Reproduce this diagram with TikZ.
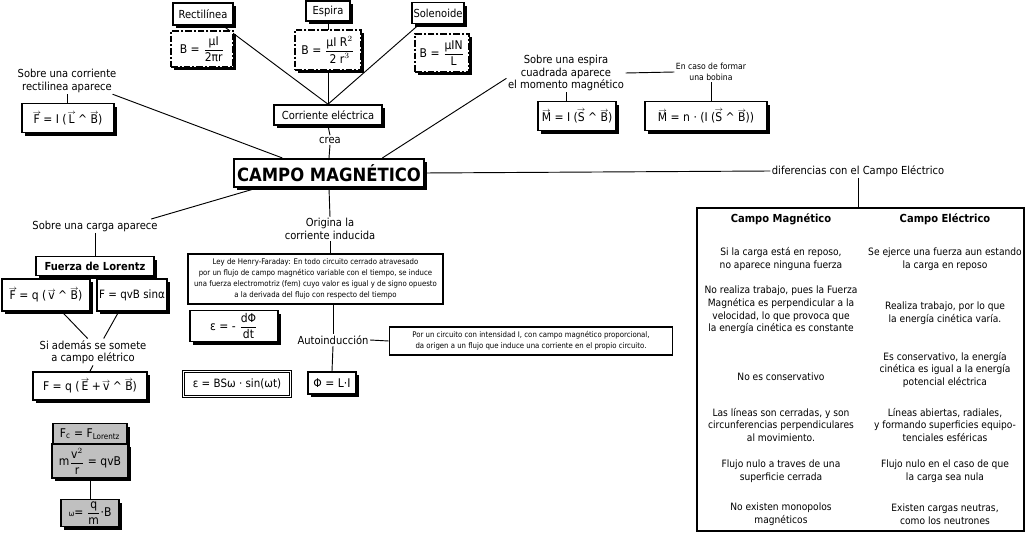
\documentclass[tikz,border=0pt]{standalone}
\usepackage{fontspec}
\setmainfont[FakeStretch=0.9]{DejaVu Sans}
\usetikzlibrary{shadows,backgrounds}
\definecolor{boxgray}{RGB}{192,192,192}
\newcommand\fN{\fontsize{7.6}{9.4}\selectfont}
\newcommand\fL{\fontsize{8.3}{9.4}\selectfont}
\newcommand\fS{\fontsize{5.8}{8.3}\selectfont}
\newcommand\fSS{\fontsize{6.4}{8.2}\selectfont}
\newcommand\fB{\fontsize{8.3}{10}\selectfont}
\newcommand\fF{\fontsize{9}{11}\selectfont}
\newcommand\fT{\fontsize{13.7}{16}\selectfont\bfseries}
\newcommand\vf[1]{\leavevmode\vbox{\offinterlineskip\halign{\hfil##\hfil\cr\hbox to 0pt{\hss\fontsize{4.5}{4.5}\selectfont$\rightarrow$\hss}\cr\noalign{\kern0.2pt}#1\cr}}}
\newcommand\fr[2]{\ensuremath{\displaystyle\frac{\hbox{#1}}{\hbox{#2}}}}
\newcommand\wdg{\textasciicircum}
\begin{document}
\begin{tikzpicture}[x=0.75pt,y=-0.75pt,
  px/.style 2 args={minimum width={#1*0.75pt},minimum height={#2*0.75pt}},
  bx/.style={draw,line width=1.2pt,fill=white,inner sep=0pt,align=center,font=\fF,
     drop shadow={shadow xshift=2.3pt,shadow yshift=-2.3pt,opacity=1,fill=black}},
  tbx/.style={bx,font=\fB},
  dbx/.style={bx,dash pattern=on 5pt off 1.5pt on 1.5pt off 1.5pt},
  gbx/.style={bx,fill=boxgray},
  plainbx/.style={draw,line width=1.1pt,fill=white,inner sep=0pt,align=center,font=\fF},
  lbl/.style={inner sep=1pt,align=center,font=\fL},
  tbl/.style={inner sep=1pt,align=center,font=\fN},
  con/.style={line width=0.7pt}]
\useasboundingbox (0,0) rectangle (1029,538);

% top
\node[tbx,px={60}{22}] (rect) at (203,14) {Rectilínea};
\node[dbx,px={62}{36}] (f1) at (202,49) {B = \fr{μI}{2πr}};
\node[tbx,px={44}{20}] (esp) at (328,11) {Espira};
\node[dbx,px={66}{40}] (f2) at (328,50) {B = \fr{μI R$^{2}$}{2 r$^{3}$}};
\node[tbx,px={52}{21}] (sol) at (438,13) {Solenoide};
\node[dbx,px={54}{38}] (f3) at (442,53) {B = \fr{μIN}{L}};
\node[tbx,px={108}{20}] (corr) at (328,115) {Corriente eléctrica};
\node[lbl] (crea) at (330,140) {crea};
\node[bx,line width=1.6pt,px={190}{28},font=\fT] (campo) at (329,173) {CAMPO MAGNÉTICO};

% upper left
\node[lbl] (l1) at (67,81) {Sobre una corriente\\rectilinea aparece};
\node[bx,px={92}{29}] (fil) at (68,118) {\vf{F} = I (\,\vf{L} \wdg\ \vf{B})};

% upper right
\node[lbl] (sl) at (566,73) {Sobre una espira\\cuadrada aparece\\el momento magnético};
\node[lbl,font=\fSS] (bob) at (711,72) {En caso de formar\\una bobina};
\node[bx,px={78}{29}] (m1) at (577,116) {\vf{M} = I (\vf{S} \wdg\ \vf{B})};
\node[bx,px={122}{29}] (m2) at (706,116) {\vf{M} = n · (I (\vf{S} \wdg\ \vf{B}))};

% differences table
\node[lbl] (dif) at (858,171) {diferencias con el Campo Eléctrico};
\node[draw,line width=2pt,px={327}{323},inner sep=0pt] (tab) at (860.5,369.5) {};
\node[tbl,font=\fB\bfseries] (h1) at (781,219) {Campo Magnético};
\node[tbl,font=\fB\bfseries] (h2) at (945,219) {Campo Eléctrico};
\node[tbl] (a1) at (781,259) {Si la carga está en reposo,\\no aparece ninguna fuerza};
\node[tbl] (b1) at (945,259) {Se ejerce una fuerza aun estando\\la carga en reposo};
\node[tbl] (a2) at (781,310) {No realiza trabajo, pues la Fuerza\\Magnética es perpendicular a la\\velocidad, lo que provoca que\\la energía cinética es constante};
\node[tbl] (b2) at (945,313) {Realiza trabajo, por lo que\\la energía cinética varía.};
\node[tbl] (a3) at (781,377) {No es conservativo};
\node[tbl] (b3) at (945,370) {Es conservativo, la energía\\cinética es igual a la energía\\potencial eléctrica};
\node[tbl] (a4) at (781,425) {Las líneas son cerradas, y son\\circunferencias perpendiculares\\al movimiento.};
\node[tbl] (b4) at (945,425) {Líneas abiertas, radiales,\\y formando superficies equipo-\\tenciales esféricas};
\node[tbl] (a5) at (781,471) {Flujo nulo a traves de una\\superficie cerrada};
\node[tbl] (b5) at (945,471) {Flujo nulo en el caso de que\\la carga sea nula};
\node[tbl] (a6) at (781,514) {No existen monopolos\\magnéticos};
\node[tbl] (b6) at (945,514) {Existen cargas neutras,\\como los neutrones};

% lower left
\node[lbl] (carga) at (95,226) {Sobre una carga aparece};
\node[tbx,px={118}{19},font=\fB\bfseries] (lor) at (95,266) {Fuerza de Lorentz};
\node[bx,px={88}{32}] (fl1) at (46,295) {\vf{F} = q (\,\vf{v} \wdg\ \vf{B})};
\node[bx,px={70}{32},font=\fontsize{8.6}{10}\selectfont] (fl2) at (132,295) {F = qvB sinα};
\node[lbl] (si) at (93,352) {Si además se somete\\a campo elétrico};
\node[bx,px={114}{28}] (fe) at (90,386) {F = q (\,\vf{E} +\,\vf{v} \wdg\ \vf{B})};
\node[gbx,px={74}{21}] (fc) at (90,434) {F\textsubscript{c} = F\textsubscript{Lorentz}};
\node[gbx,px={76}{34}] (mv) at (90,461) {m\fr{v$^{2}$}{r} = qvB};
\node[gbx,px={58}{27}] (om) at (90,513) {{\fS ω}= \fr{q}{m}·B};

% middle
\node[lbl] (org) at (330,229) {Origina la\\corriente inducida};
\node[draw,line width=1.2pt,fill=white,px={255}{50},inner sep=0pt,align=center,font=\fS] (hen) at (315.5,279)
  {Ley de Henry-Faraday: En todo circuito cerrado atravesado\\por un flujo de campo magnético variable con el tiempo, se induce\\una fuerza electromotriz (fem) cuyo valor es igual y de signo opuesto\\a la derivada del flujo con respecto del tiempo};
\node[bx,px={88}{31}] (e1) at (234,326) {ε = - \fr{dΦ}{dt}};
\node[lbl] (auto) at (333,340) {Autoinducción};
\node[draw,line width=1.2pt,fill=white,px={283}{28},inner sep=0pt,align=center,font=\fS] (por) at (531,341)
  {Por un circuito con intensidad I, con campo magnético proporcional,\\da origen a un flujo que induce una corriente en el propio circuito.};
\node[plainbx,px={109}{27},font=\fontsize{8.6}{10}\selectfont] (e2) at (237,384) {ε = BSω · sin(ωt)};
\draw[line width=0.5pt] ([shift={(2pt,-2pt)}]e2.north west) rectangle ([shift={(-2pt,2pt)}]e2.south east);
\node[bx,px={48}{22}] (phi) at (332,383) {Φ = L·I};

\begin{scope}[on background layer]
\draw[con] ([xshift=-8pt]rect.south east) -- (corr.north);
\draw[con] (esp.south) -- (corr.north);
\draw[con] ([xshift=6pt]sol.south west) -- (corr.north);
\draw[con] (corr.south) -- (crea.north);
\draw[con] (crea.south) -- (campo.north);
\draw[con] ([xshift=37pt]campo.north west) -- ([xshift=-4pt]l1.south east);
\draw[con] (l1.south) -- (l1.south |- fil.north);
\draw[con] ([xshift=-32pt]campo.north east) -- ([yshift=-4pt]sl.west);
\draw[con] (sl.east) -- (bob.west);
\draw[con] (sl.south) -- (sl.south |- m1.north);
\draw[con] (bob.south) -- (bob.south |- m2.north);
\draw[con] (campo.east) -- (dif.west);
\draw[con] (dif.south) -- (dif.south |- tab.north);
\draw[con] ([xshift=18pt]campo.south west) -- ([xshift=-6pt]carga.north east);
\draw[con] (carga.south) -- (lor.north);
\draw[con] ([xshift=12pt]fl1.south) -- ([xshift=-4pt]si.north);
\draw[con] ([xshift=-10pt]fl2.south) -- ([xshift=8pt]si.north);
\draw[con] (si.south) -- (fe.north);
\draw[con] (mv.south) -- (om.north);
\draw[con] (campo.south) -- (org.north);
\draw[con] (org.south) -- (org.south |- hen.north);
\draw[con] (auto.north |- hen.south) -- (auto.north);
\draw[con] (auto.south) -- (phi.north);
\draw[con] (auto.east) -- (por.west);
\end{scope}
\end{tikzpicture}
\end{document}
